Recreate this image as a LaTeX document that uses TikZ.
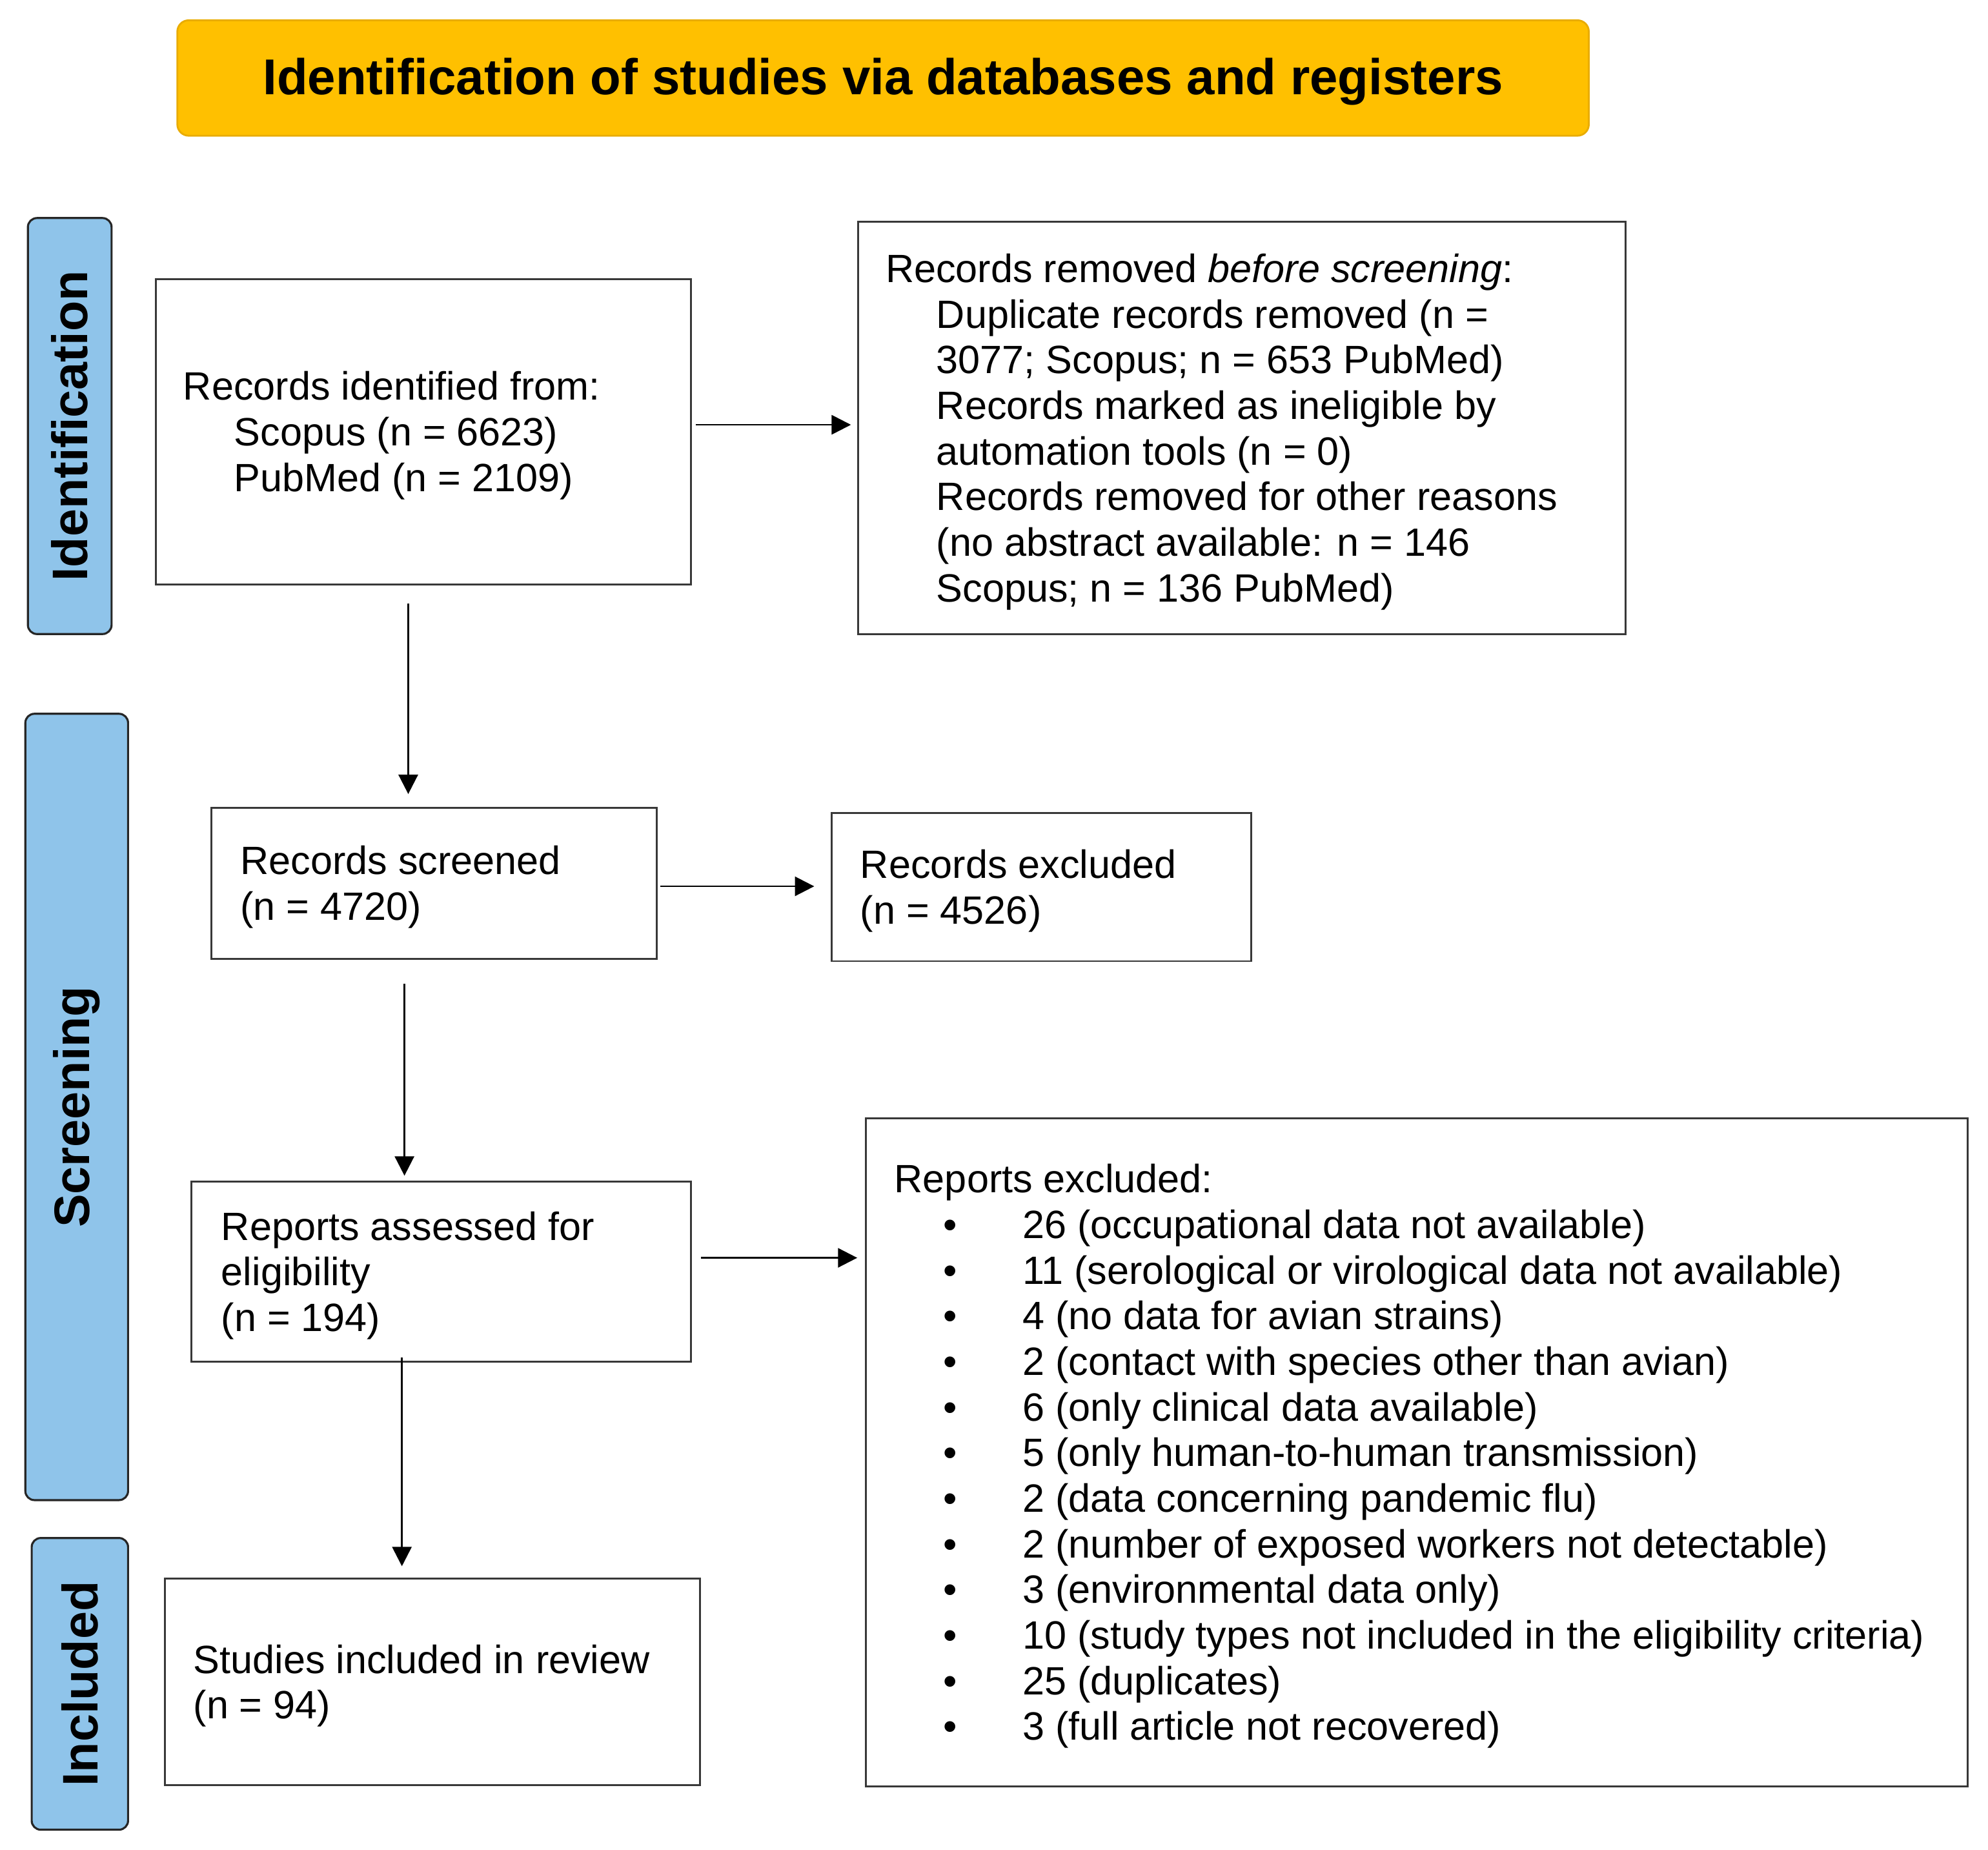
\documentclass[tikz,border=0pt]{standalone}
\usepackage{fontspec}
\setmainfont{Liberation Sans}
\usetikzlibrary{arrows.meta}
\definecolor{gold}{HTML}{FFC000}
\definecolor{goldedge}{HTML}{E9AC00}
\definecolor{sideblue}{HTML}{8FC4EA}
\def\U{0.55889pt}
\begin{document}
\begin{tikzpicture}[x=0.019643cm,y=-0.019643cm,
  box/.style={draw=black!78,line width=0.85pt,rectangle,inner sep=0pt},
  txt/.style={align=left,inner sep=0pt,anchor=west,yshift=-3*\U,font=\fontsize{17.4}{20.1}\selectfont},
  side/.style={draw=black!85,fill=sideblue,line width=0.9pt,rounded corners=4pt,rotate=90,inner sep=0pt,font=\fontsize{22}{26}\selectfont\bfseries},
  arr/.style={draw=black,line width=0.8pt,-{Triangle[length=8.5pt,width=8.5pt]}}]
\fill[white] (0,0) rectangle (1568,1459);
\useasboundingbox (0,0) rectangle (1568,1459);

% banner
\node[draw=goldedge,fill=gold,line width=0.8pt,rounded corners=5pt,minimum width=1113*\U,minimum height=91*\U,inner sep=0pt] (banner) at (696.5,61.5) {};
\node[inner sep=0pt,yshift=-3*\U,font=\fontsize{22.2}{26}\selectfont\bfseries] (bannertext) at (banner.center) {Identification of studies via databases and registers};

% side labels
\node[side,minimum width=328*\U,minimum height=66*\U] (sid) at (55,336) {Identification};
\node[side,minimum width=620*\U,minimum height=81*\U] (sscr) at (60.5,873) {Screening};
\node[side,minimum width=230*\U,minimum height=76*\U] (sinc) at (63,1328) {Included};

% boxes
\node[box,minimum width=422*\U,minimum height=241*\U] (b1) at (334,340.5) {};
\node[txt] (t1) at ([xshift=22*\U]b1.west) {Records identified from:\\\hspace*{22.4pt}Scopus (n = 6623)\\\hspace*{22.4pt}PubMed (n = 2109)};

\node[box,minimum width=605*\U,minimum height=325*\U] (b2) at (979.5,337.5) {};
\node[txt] (t2) at ([xshift=22*\U]b2.west) {Records removed \textit{before screening}:\\
\hspace*{22.4pt}Duplicate records removed (n =\\
\hspace*{22.4pt}3077; Scopus; n = 653 PubMed)\\
\hspace*{22.4pt}Records marked as ineligible by\\
\hspace*{22.4pt}automation tools (n = 0)\\
\hspace*{22.4pt}Records removed for other reasons\\
\hspace*{22.4pt}(no abstract available: n = 146\\
\hspace*{22.4pt}Scopus; n = 136 PubMed)};

\node[box,minimum width=351*\U,minimum height=119*\U] (b3) at (342.5,696.5) {};
\node[txt] (t3) at ([xshift=23*\U]b3.west) {Records screened\\(n = 4720)};

\node[box,minimum width=331*\U,minimum height=117*\U] (b4) at (821.5,699.5) {};
\node[txt] (t4) at ([xshift=23*\U]b4.west) {Records excluded\\(n = 4526)};

\node[box,minimum width=394*\U,minimum height=142*\U] (b5) at (348,1003) {};
\node[txt] (t5) at ([xshift=24*\U]b5.west) {Reports assessed for\\eligibility\\(n = 194)};

\newcommand{\bul}{\hspace*{21.6pt}\makebox[34.8pt][l]{•}}
\node[box,minimum width=869*\U,minimum height=527*\U] (b6) at (1117.5,1145.5) {};
\node[txt] (t6) at ([xshift=23*\U]b6.west) {Reports excluded:\\
\bul 26 (occupational data not available)\\
\bul 11 (serological or virological data not available)\\
\bul 4 (no data for avian strains)\\
\bul 2 (contact with species other than avian)\\
\bul 6 (only clinical data available)\\
\bul 5 (only human-to-human transmission)\\
\bul 2 (data concerning pandemic flu)\\
\bul 2 (number of exposed workers not detectable)\\
\bul 3 (environmental data only)\\
\bul 10 (study types not included in the eligibility criteria)\\
\bul 25 (duplicates)\\
\bul 3 (full article not recovered)};

\node[box,minimum width=422*\U,minimum height=163*\U] (b7) at (341,1326.5) {};
\node[txt] (t7) at ([xshift=23*\U]b7.west) {Studies included in review\\(n = 94)};

% connectors
\coordinate (ya) at (0,335);
\coordinate (yb) at (0,699);
\coordinate (yc) at (0,992);
\coordinate (xa) at (322,0);
\coordinate (xb) at (319,0);
\coordinate (xc) at (317,0);
\draw[arr,shorten <=3*\U,shorten >=5*\U] (b1.east |- ya) -- (b2.west |- ya);
\draw[arr,shorten <=14*\U,shorten >=10*\U] (b1.south -| xa) -- (b3.north -| xa);
\draw[arr,shorten <=2*\U,shorten >=13*\U] (b3.east |- yb) -- (b4.west |- yb);
\draw[arr,shorten <=19*\U,shorten >=4*\U] (b3.south -| xb) -- (b5.north -| xb);
\draw[arr,shorten <=7*\U,shorten >=6*\U] (b5.east |- yc) -- (b6.west |- yc);
\draw[arr,shorten <=-4*\U,shorten >=9*\U] (b5.south -| xc) -- (b7.north -| xc);
\end{tikzpicture}
\end{document}
